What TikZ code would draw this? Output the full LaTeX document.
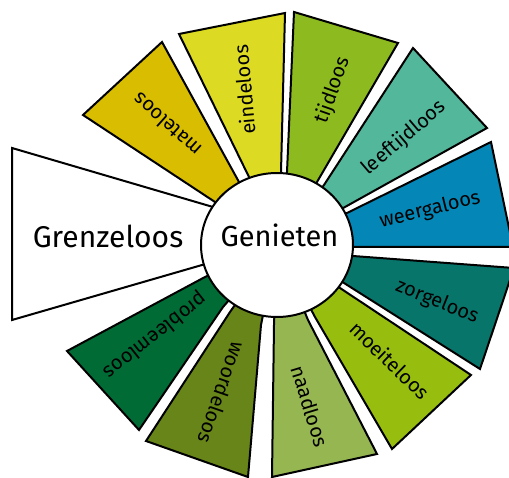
\documentclass[tikz,border=0pt]{standalone}
\usepackage{fontspec}
\setmainfont{Fira Sans}
\usetikzlibrary{shapes.geometric}
\definecolor{cmate}{HTML}{D9BD00}
\definecolor{ceinde}{HTML}{DCDA23}
\definecolor{ctijd}{HTML}{8DBB1F}
\definecolor{cleef}{HTML}{52B79B}
\definecolor{cweer}{HTML}{0487B6}
\definecolor{czorg}{HTML}{08756B}
\definecolor{cmoei}{HTML}{97BE0E}
\definecolor{cnaad}{HTML}{96B652}
\definecolor{cwoord}{HTML}{678518}
\definecolor{cprob}{HTML}{006B35}
\begin{document}
\begin{tikzpicture}[x=1pt,y=-1pt,
  seg/.style={draw=black,line width=2pt,line join=miter},
  lab/.style={font=\fontsize{20}{20}\selectfont,text=black,inner sep=0pt},
  big/.style={font=\fontsize{30}{30}\selectfont,text=black,inner sep=0pt}]
\useasboundingbox (0,0) rectangle (509,478);
\coordinate (C) at (277,245);
% segments
\path[seg,fill=white] (213,207) -- (12,148) -- (12,320) -- (202,265) -- (C) -- cycle;
\path[seg,fill=cmate] (83,115) -- (162,42) -- (239,182) -- (C) -- (215,202) -- cycle;
\path[seg,fill=ceinde] (179,34) -- (285,13) -- (281,172) -- (C) -- (249,177) -- cycle;
\path[seg,fill=ctijd] (294,12) -- (398,43) -- (317,182) -- (C) -- (287,172) -- cycle;
\path[seg,fill=cleef] (413,48) -- (487,128) -- (345,207) -- (C) -- (324,185) -- cycle;
\path[seg,fill=cweer] (491,142) -- (513,247) -- (353,247) -- (C) -- (347,213) -- cycle;
\path[seg,fill=czorg] (353,256) -- (514,268) -- (480,369) -- (344,283) -- (C) -- cycle;
\path[seg,fill=cmoei] (343,290) -- (471,375) -- (392,449) -- (315,317) -- (C) -- cycle;
\path[seg,fill=cnaad] (308,320) -- (377,454) -- (272,477) -- (274,325) -- (C) -- cycle;
\path[seg,fill=cwoord] (261,325) -- (248,477) -- (146,441) -- (230,312) -- (C) -- cycle;
\path[seg,fill=cprob] (223,307) -- (139,430) -- (67,351) -- (205,277) -- (C) -- cycle;
% centre
\node[ellipse,draw=black,fill=white,line width=2pt,minimum width=152pt,minimum height=144pt,inner sep=0pt] (gen) at (C) {};
\node[big,font=\fontsize{29}{29}\selectfont,anchor=base] (gentext) at (279.5,247) {Genieten};
\node[big,anchor=base] (grenz) at (108,248) {Grenzeloos};
% labels
\node[lab,rotate=138] (mate) at (167,125) {mateloos};
\node[lab,rotate=95] (einde) at (244,90) {eindeloos};
\node[lab,rotate=70.5] (tijd) at (333,90) {tijdloos};
\node[lab,rotate=40.5] (leef) at (404,138) {leeftijdloos};
\node[lab,rotate=13.8] (weer) at (430,210) {weergaloos};
\node[lab,rotate=-21.9] (zorg) at (437,302) {zorgeloos};
\node[lab,rotate=-44] (moei) at (390,360) {moeiteloos};
\node[lab,rotate=-73] (naad) at (310,406) {naadloos};
\node[lab,rotate=-109] (woord) at (222,393) {woordeloos};
\node[lab,rotate=-141.6] (prob) at (155,335) {probleemloos};
\end{tikzpicture}
\end{document}
